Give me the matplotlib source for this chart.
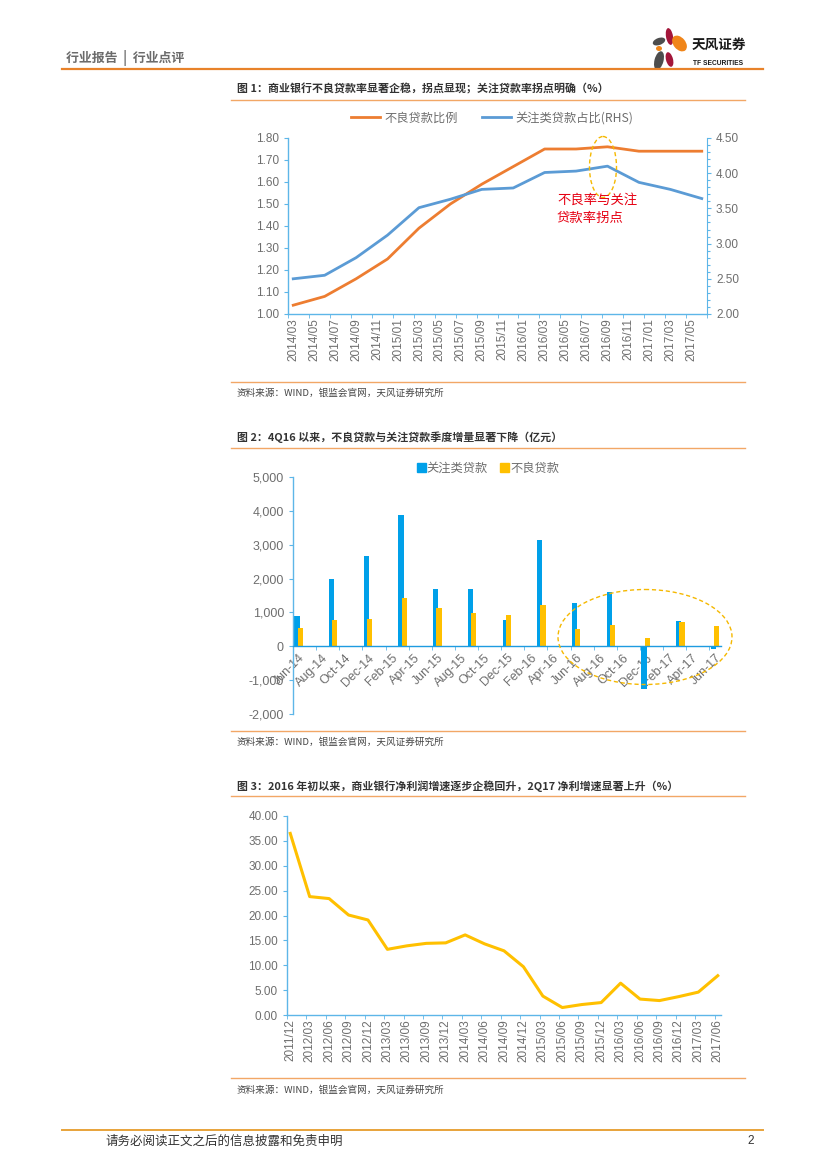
import matplotlib
matplotlib.use('Agg')
import matplotlib.pyplot as plt
from matplotlib.patches import Ellipse, Rectangle
from matplotlib.ticker import FixedLocator, FuncFormatter

plt.rcParams['font.family'] = ['Noto Sans CJK SC', 'DejaVu Sans']

# ---------- data ----------
# 图1 季度数据（%）
quarters1 = ['2014/03', '2014/06', '2014/09', '2014/12', '2015/03', '2015/06', '2015/09',
             '2015/12', '2016/03', '2016/06', '2016/09', '2016/12', '2017/03', '2017/06']
npl_ratio = [1.04, 1.08, 1.16, 1.25, 1.39, 1.50, 1.59, 1.67, 1.75, 1.75, 1.76, 1.74, 1.74, 1.74]
sm_ratio = [2.50, 2.55, 2.80, 3.12, 3.51, 3.63, 3.77, 3.79, 4.01, 4.03, 4.10, 3.87, 3.77, 3.64]
ticklabels1 = ['2014/03', '2014/05', '2014/07', '2014/09', '2014/11', '2015/01', '2015/03',
               '2015/05', '2015/07', '2015/09', '2015/11', '2016/01', '2016/03', '2016/05',
               '2016/07', '2016/09', '2016/11', '2017/01', '2017/03', '2017/05']

# 图2 季度增量（亿元）
quarters2 = ['Jun-14', 'Sep-14', 'Dec-14', 'Mar-15', 'Jun-15', 'Sep-15', 'Dec-15',
             'Mar-16', 'Jun-16', 'Sep-16', 'Dec-16', 'Mar-17', 'Jun-17']
sm_incr = [880, 2000, 2660, 3870, 1680, 1700, 770, 3130, 1280, 1610, -1260, 740, -70]
npl_incr = [540, 770, 800, 1440, 1130, 990, 920, 1220, 510, 620, 230, 720, 600]
ticklabels2 = ['Jun-14', 'Aug-14', 'Oct-14', 'Dec-14', 'Feb-15', 'Apr-15', 'Jun-15',
               'Aug-15', 'Oct-15', 'Dec-15', 'Feb-16', 'Apr-16', 'Jun-16', 'Aug-16',
               'Oct-16', 'Dec-16', 'Feb-17', 'Apr-17', 'Jun-17']

# 图3 净利润增速（%）
quarters3 = ['2011/12', '2012/03', '2012/06', '2012/09', '2012/12', '2013/03', '2013/06',
             '2013/09', '2013/12', '2014/03', '2014/06', '2014/09', '2014/12', '2015/03',
             '2015/06', '2015/09', '2015/12', '2016/03', '2016/06', '2016/09', '2016/12',
             '2017/03', '2017/06']
profit_growth = [36.5, 23.8, 23.4, 20.1, 19.1, 13.2, 13.9, 14.4, 14.5, 16.1, 14.3, 12.9,
                 9.7, 3.8, 1.5, 2.1, 2.5, 6.4, 3.2, 2.9, 3.7, 4.6, 7.9]

MON = {'Jan': 1, 'Feb': 2, 'Mar': 3, 'Apr': 4, 'May': 5, 'Jun': 6,
       'Jul': 7, 'Aug': 8, 'Sep': 9, 'Oct': 10, 'Nov': 11, 'Dec': 12}


def month_idx(s, base):
    # months since base, for 'YYYY/MM' or 'Mon-YY'
    def ym(t):
        if '/' in t:
            y, m = t.split('/')
            return int(y) * 12 + int(m)
        mm, yy = t.split('-')
        return (2000 + int(yy)) * 12 + MON[mm]
    return ym(s) - ym(base)


# ---------- page ----------
W, H = 827, 1169
fig = plt.figure(figsize=(8.27, 11.69), dpi=100)


def rect(x0, y0, x1, y1):
    return [x0 / W, 1 - y1 / H, (x1 - x0) / W, (y1 - y0) / H]


bg = fig.add_axes([0, 0, 1, 1])
bg.set_xlim(0, W)
bg.set_ylim(H, 0)
bg.axis('off')

ORANGE = '#E8822A'
LINE_OR = '#F2A766'
GRAY = '#6E6E6E'
AXBLUE = '#5DB6E8'
NUMFONT = ['Liberation Sans', 'DejaVu Sans']

# header
bg.text(66, 58, '行业报告  |  行业点评', fontsize=9.3, color='#6B6B6B', fontweight='bold', va='center')
bg.plot([62, 763], [68.5, 68.5], color=ORANGE, lw=1.6)
# logo
for (cx, cy, w, h, ang, c) in [(669.5, 36.5, 7, 17, -10, '#A3163A'), (679.5, 43.5, 12, 18, -40, '#F08519'),
                               (659, 41.5, 13, 7, -20, '#4D4D4D'), (659, 48.5, 6, 5, 0, '#F08519'),
                               (659, 60.5, 9, 19, 15, '#4D4D4D'), (669.5, 59.5, 7, 15, -15, '#A3163A')]:
    bg.add_patch(Ellipse((cx, cy), w, h, angle=ang, color=c, lw=0))
bg.text(692, 45, '天风证券', fontsize=9.8, fontweight='bold', color='#1A1A1A', va='center')
bg.text(693, 63.5, 'TF SECURITIES', fontsize=4.8, color='#1A1A1A', va='center',
        family=NUMFONT, fontweight='bold')

# chart frames: titles / separator lines / sources
titles = [(89, '图 1：商业银行不良贷款率显著企稳，拐点显现；关注贷款率拐点明确（%）'),
          (437, '图 2：4Q16 以来，不良贷款与关注贷款季度增量显著下降（亿元）'),
          (786, '图 3：2016 年初以来，商业银行净利润增速逐步企稳回升，2Q17 净利增速显著上升（%）')]
for y, t in titles:
    bg.text(237, y, t, fontsize=7.9, fontweight='bold', color='#333333', va='center')
for y in [100, 448, 796, 382, 731, 1078]:
    bg.plot([231, 745], [y, y], color=LINE_OR, lw=1.0)
for y in [393, 742, 1090]:
    bg.text(237, y, '资料来源：WIND，银监会官网，天风证券研究所', fontsize=6.9, color='#444444', va='center')

# footer
bg.plot([62, 763], [1130, 1130], color='#E8A33A', lw=1.4)
bg.text(105, 1141, '请务必阅读正文之后的信息披露和免责申明', fontsize=9, color='#333333', va='center')
bg.text(754, 1141, '2', fontsize=8.5, color='#333333', va='center', ha='right', family=NUMFONT)


def style_axis(ax):
    for s in ['top', 'right']:
        ax.spines[s].set_visible(False)
    for s in ['left', 'bottom']:
        ax.spines[s].set_color(AXBLUE)
        ax.spines[s].set_linewidth(1.0)
    ax.tick_params(colors=AXBLUE, labelcolor=GRAY, labelsize=8.5, length=3, width=0.8)
    ax.set_facecolor('none')


def num_font(ax, axes='both'):
    labs = []
    if axes in ('both', 'x'):
        labs += ax.get_xticklabels()
    if axes in ('both', 'y'):
        labs += ax.get_yticklabels()
    for lb in labs:
        lb.set_family(NUMFONT)


# ---------- 图1 ----------
ax1 = fig.add_axes(rect(288, 138, 707, 314))
x1 = [month_idx(q, quarters1[0]) for q in quarters1]
ln1, = ax1.plot(x1, npl_ratio, color='#ED7D31', lw=2.0)
ax1r = ax1.twinx()
ln2, = ax1r.plot(x1, sm_ratio, color='#5B9BD5', lw=2.0)
ax1.set_ylim(1.0, 1.8)
ax1r.set_ylim(2.0, 4.5)
ax1.set_xlim(-0.5, 39.5)
ax1.set_yticks([1.0 + 0.1 * i for i in range(9)])
ax1.yaxis.set_major_formatter(FuncFormatter(lambda v, p: f'{v:.2f}'))
ax1r.set_yticks([2.0 + 0.5 * i for i in range(6)])
ax1r.yaxis.set_minor_locator(FixedLocator([2.0 + 0.1 * i for i in range(26)]))
ax1r.yaxis.set_major_formatter(FuncFormatter(lambda v, p: f'{v:.2f}'))
style_axis(ax1)
ax1r.spines['top'].set_visible(False)
ax1r.spines['left'].set_visible(False)
ax1r.spines['bottom'].set_visible(False)
ax1r.spines['right'].set_color(AXBLUE)
ax1r.tick_params(which='both', colors=AXBLUE, labelcolor=GRAY, labelsize=8.5, length=3, width=0.8)
ax1r.tick_params(which='minor', length=2)
pos1 = [month_idx(t, quarters1[0]) for t in ticklabels1]
ax1.set_xticks(pos1)
ax1.set_xticklabels(ticklabels1, rotation=90, fontsize=8.5)
ax1.tick_params(axis='x', length=0, pad=3)
ax1.xaxis.set_minor_locator(FixedLocator([-0.5 + 2 * k for k in range(21)]))
ax1.tick_params(axis='x', which='minor', length=3, color=AXBLUE)
num_font(ax1)
num_font(ax1r, 'y')
fig.legend([ln1, ln2], ['不良贷款比例', '关注类贷款占比(RHS)'], loc='center',
           bbox_to_anchor=(492 / W, 1 - 118 / H), ncol=2, frameon=False, fontsize=8.8,
           labelcolor=GRAY, handlelength=2.4, columnspacing=2.0, handletextpad=0.3)

# ---------- 图2 ----------
ax2 = fig.add_axes(rect(293, 477, 721, 714))
x2 = [month_idx(q, quarters2[0]) for q in quarters2]
bw = 0.45
ax2.bar([v - 0.16 for v in x2], sm_incr, width=bw, color='#00A0E9', zorder=2)
ax2.bar([v + 0.12 for v in x2], npl_incr, width=bw, color='#FFC000', zorder=3)
ax2.set_xlim(-0.5, 36.5)
ax2.set_ylim(-2000, 5000)
ax2.set_yticks(range(-2000, 5001, 1000))
ax2.yaxis.set_major_formatter(FuncFormatter(lambda v, p: f'{v:,.0f}'))
style_axis(ax2)
ax2.tick_params(axis='y', labelsize=9)
ax2.spines['bottom'].set_position(('data', 0))
ax2.spines['bottom'].set_color('#1E9BE0')
ax2.spines['bottom'].set_zorder(4)
pos2 = [month_idx(t, quarters2[0]) for t in ticklabels2]
ax2.set_xticks(pos2)
ax2.set_xticklabels(ticklabels2, rotation=45, ha='right', rotation_mode='anchor', fontsize=9)
ax2.tick_params(axis='x', length=0, pad=4)
ax2.xaxis.set_minor_locator(FixedLocator([-0.5 + 2 * k for k in range(19)]))
ax2.tick_params(axis='x', which='minor', length=3, color=AXBLUE)
num_font(ax2)
h1 = Rectangle((0, 0), 1, 1, color='#00A0E9')
h2 = Rectangle((0, 0), 1, 1, color='#FFC000')
fig.legend([h1, h2], ['关注类贷款', '不良贷款'], loc='center',
           bbox_to_anchor=(488 / W, 1 - 468 / H), ncol=2, frameon=False, fontsize=8.8,
           labelcolor=GRAY, handlelength=0.7, handleheight=0.7, columnspacing=1.0,
           handletextpad=0.1)

# ---------- 图3 ----------
ax3 = fig.add_axes(rect(287, 816, 721, 1015))
x3 = [month_idx(q, quarters3[0]) for q in quarters3]
ax3.plot(x3, profit_growth, color='#FFC000', lw=2.2)
ax3.set_xlim(-0.5, 66.5)
ax3.set_ylim(0, 40)
ax3.set_yticks(range(0, 41, 5))
ax3.yaxis.set_major_formatter(FuncFormatter(lambda v, p: f'{v:.2f}'))
style_axis(ax3)
ax3.set_xticks(x3)
ax3.set_xticklabels(quarters3, rotation=90, fontsize=8.5)
ax3.tick_params(axis='x', length=0, pad=3)
ax3.xaxis.set_minor_locator(FixedLocator([-0.5 + 3 * k for k in range(23)]))
ax3.tick_params(axis='x', which='minor', length=3, color=AXBLUE)
num_font(ax3)

# ---------- annotations on top ----------
top = fig.add_axes([0, 0, 1, 1])
top.set_xlim(0, W)
top.set_ylim(H, 0)
top.axis('off')
top.patch.set_alpha(0)
top.add_patch(Ellipse((603, 167), 27, 61, fill=False, ec='#F5B800', lw=1.0, ls=(0, (3, 2))))
top.text(557, 200, '不良率与关注', fontsize=9.6, color='#E60012', va='center')
top.text(557, 218, '贷款率拐点', fontsize=9.6, color='#E60012', va='center')
top.add_patch(Ellipse((645, 637), 174, 95, fill=False, ec='#F5B800', lw=1.0, ls=(0, (3, 2))))

fig.savefig('out.png', dpi=100)
